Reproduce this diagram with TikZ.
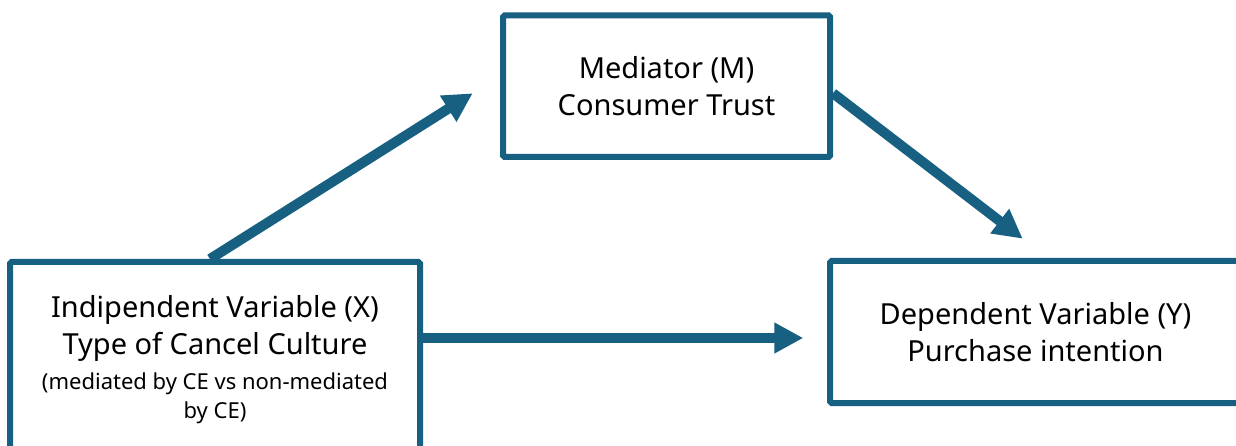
\documentclass[tikz,border=0pt]{standalone}
\usepackage{fontspec}
\setmainfont{Noto Sans}
\usetikzlibrary{arrows.meta}
\definecolor{boxblue}{RGB}{24,96,130}
\begin{document}
\begin{tikzpicture}[x=1pt,y=-1pt,
  box/.style={draw=boxblue,line width=6pt,rounded corners=1.5pt,fill=white,inner sep=0pt,align=center,
              font=\fontsize{29}{37.5}\selectfont},
  link/.style={draw=boxblue,line width=10pt,-{Triangle[length=29pt,width=29pt]}}]
\fill[white] (0,0) rectangle (1236,446);
\clip (0,0) rectangle (1236,446);
\node[box,minimum width=327pt,minimum height=141.5pt] (M) at (666.5,86.25)
  {Mediator (M)\\Consumer Trust};
\node[box,minimum width=410pt,minimum height=195pt] (X) at (215,359.5)
  {Indipendent Variable (X)\\Type of Cancel Culture\\[-3pt]
   \fontsize{22}{28.5}\selectfont(mediated by CE vs non-mediated\\[-8pt]
   \fontsize{22}{28.5}\selectfont by CE)};
\node[box,minimum width=411pt,minimum height=142pt] (Y) at (1035.5,332)
  {Dependent Variable (Y)\\Purchase intention};
\coordinate (xmtip) at (472.7,93.3);
\coordinate (mytip) at (1022.7,238.7);
\coordinate (xytip) at (803.3,338);
\draw[link] ([xshift=-5pt]X.north) -- (xmtip);
\draw[link] ([yshift=-7pt]M.east) -- (mytip);
\draw[link] (X.east |- xytip) -- (xytip);
\end{tikzpicture}
\end{document}
